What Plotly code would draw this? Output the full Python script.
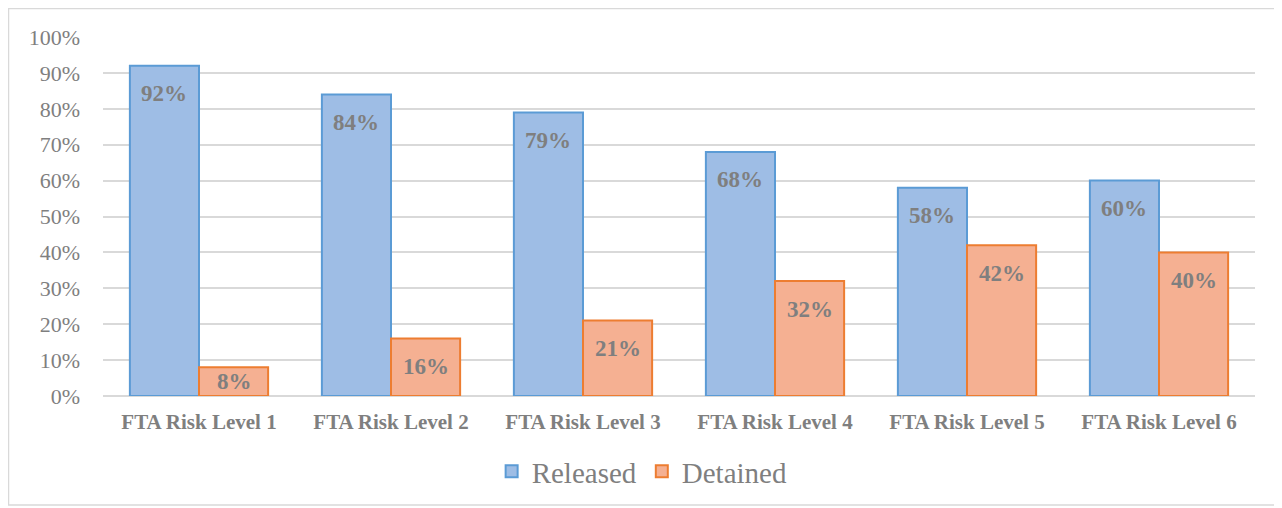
import plotly.graph_objects as go

categories = ["FTA Risk Level 1", "FTA Risk Level 2", "FTA Risk Level 3",
              "FTA Risk Level 4", "FTA Risk Level 5", "FTA Risk Level 6"]
released = [0.92, 0.84, 0.79, 0.68, 0.58, 0.60]
detained = [0.08, 0.16, 0.21, 0.32, 0.42, 0.40]
y_ticks = [0, 0.1, 0.2, 0.3, 0.4, 0.5, 0.6, 0.7, 0.8, 0.9, 1.0]

# page has an 8px body margin, so figure coords = page coords - 8
W, H = 1282, 508
ML, MT = 95, 29
PW = 1247 - ML
PH = 388 - MT
MR, MB = W - ML - PW, H - MT - PH

FONT = "Liberation Serif, Times New Roman, serif"
GRAY = "#7f7f7f"

fig = go.Figure()
fig.add_trace(go.Bar(
    name="Released", x=categories, y=released,
    marker=dict(color="#9ebde5", line=dict(color="#5b9bd5", width=2)),
))
fig.add_trace(go.Bar(
    name="Detained", x=categories, y=detained,
    marker=dict(color="#f5b092", line=dict(color="#ed7d31", width=2)),
))

# data labels (inside end, offset down like the reference)
off = 28 / PH
for vals, shift in ((released, -35), (detained, 35)):
    for c, v in zip(categories, vals):
        fig.add_annotation(
            x=c, y=max(v - off, v / 2), xref="x", yref="y",
            text=f"<b>{round(v*100)}%</b>", showarrow=False,
            xshift=shift, font=dict(family=FONT, size=23, color=GRAY),
        )

# outer chart border
fig.add_shape(
    type="rect", xref="paper", yref="paper",
    x0=(0.5 - ML) / PW, x1=(1267 - ML) / PW,
    y0=-(497 - MT - PH) / PH, y1=(MT + PH - 0.5) / PH,
    line=dict(color="#d9d9d9", width=1.5), fillcolor="rgba(0,0,0,0)", layer="below",
)

fig.update_layout(
    width=W, height=H,
    margin=dict(l=ML, r=MR, t=MT, b=MB),
    paper_bgcolor="white", plot_bgcolor="white",
    barmode="group", bargap=0.28, bargroupgap=0,
    font=dict(family=FONT, color=GRAY),
    showlegend=True,
    legend=dict(
        orientation="h", x=0.468, xanchor="center", y=-0.21, yanchor="middle",
        font=dict(family=FONT, size=29, color=GRAY),
        itemwidth=30, tracegroupgap=0,
    ),
    xaxis=dict(
        showgrid=False, showline=False, ticks="",
        tickfont=dict(family=FONT, size=21, color=GRAY, weight="bold"),
        ticklabelstandoff=11,
    ),
    yaxis=dict(
        range=[0, 1.0], tickvals=y_ticks, tickformat=".0%",
        showgrid=True, gridcolor="#d9d9d9", gridwidth=1.5,
        zeroline=True, zerolinecolor="#d9d9d9", zerolinewidth=1.5,
        showline=False, ticks="",
        tickfont=dict(family=FONT, size=22, color=GRAY),
        ticklabelstandoff=22,
    ),
)

fig.write_html("out.html")
